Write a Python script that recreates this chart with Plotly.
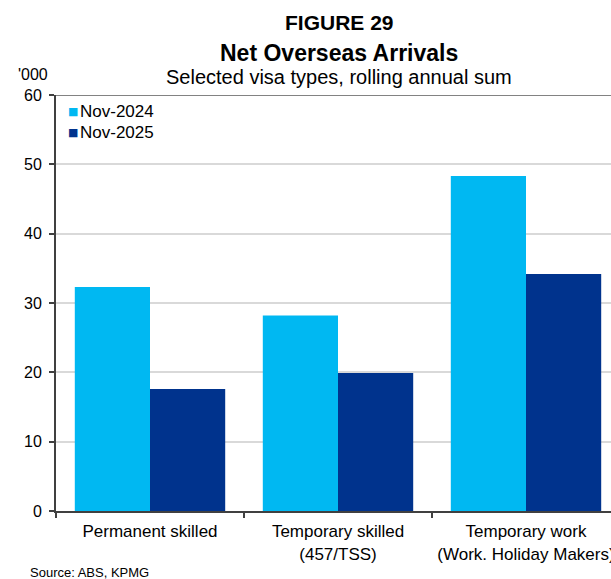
import plotly.graph_objects as go

# Visa categories (x axis) and the two rolling-annual snapshots, in '000
categories = ["Permanent skilled", "Temporary skilled<br>(457/TSS)", "Temporary work<br>(Work. Holiday Makers)"]
series_names = ["Nov-2024", "Nov-2025"]
nov_2024 = [32.3, 28.2, 48.3]
nov_2025 = [17.6, 19.9, 34.2]
y_ticks = [0, 10, 20, 30, 40, 50, 60]

LIGHT = "#00B8F2"
DARK = "#00338D"
FONT = "Liberation Sans, Arial, sans-serif"

W, H = 611, 579
L, R, T, B = 56, 0, 95, 68
plot_w = W - L - R
plot_h = H - T - B

fig = go.Figure()
fig.add_trace(go.Bar(x=categories, y=nov_2024, name=series_names[0], showlegend=False,
                     marker=dict(color=LIGHT, line=dict(width=0))))
fig.add_trace(go.Bar(x=categories, y=nov_2025, name=series_names[1], showlegend=False,
                     marker=dict(color=DARK, line=dict(width=0))))

def px_x(x):
    return (x - L) / plot_w

def px_y(y):
    return (H - B - y) / plot_h

# each category is ~188 px wide; the right-hand edge of the last one runs off the canvas
cat_px = 188
span = plot_w / cat_px

fig.update_layout(
    width=W, height=H,
    margin=dict(l=L, r=R, t=T, b=B, pad=0, autoexpand=False),
    paper_bgcolor="white", plot_bgcolor="white",
    font=dict(family=FONT, color="#000000", size=16),
    barmode="group", bargap=0.2, bargroupgap=0,
    showlegend=False,
    xaxis=dict(range=[-0.5, -0.5 + span], showgrid=False, automargin=False,
               showline=True, linecolor="#404040", linewidth=2,
               ticks="outside", tickson="boundaries", ticklen=5,
               tickcolor="#404040", tickwidth=1.5, ticklabelstandoff=4,
               tickfont=dict(size=17, family=FONT, color="#000000")),
    yaxis=dict(range=[0, 60], tickvals=y_ticks, showgrid=True, automargin=False,
               gridcolor="#D9D9D9", gridwidth=1.5,
               showline=True, linecolor="#404040", linewidth=2,
               ticks="outside", ticklen=5, tickcolor="#404040", tickwidth=1.5,
               ticklabelstandoff=4, zeroline=False,
               tickfont=dict(size=16, family=FONT, color="#000000")),
)

# dark rule along the top of the plot area
fig.add_shape(type="line", xref="paper", yref="y", x0=0, x1=1, y0=60, y1=60,
              line=dict(color="#595959", width=1.5))

# legend: small colour swatch followed by the series name
for i, (name, col) in enumerate(zip(series_names, [LIGHT, DARK])):
    yy = px_y(112 + 20 * i)
    fig.add_annotation(text="■", x=px_x(66), y=yy, xref="paper", yref="paper",
                       xanchor="left", yanchor="middle", showarrow=False,
                       font=dict(size=11, family="DejaVu Sans", color=col))
    fig.add_annotation(text=name, x=px_x(78), y=yy, xref="paper", yref="paper",
                       xanchor="left", yanchor="middle", showarrow=False,
                       font=dict(size=17, family=FONT, color="#000000"))

cx = px_x(339)
fig.add_annotation(text="<b>FIGURE 29</b>", x=cx, y=px_y(23), xref="paper", yref="paper",
                   xanchor="center", yanchor="middle", showarrow=False,
                   font=dict(size=21, family=FONT, color="#000000"))
fig.add_annotation(text="<b>Net Overseas Arrivals</b>", x=cx, y=px_y(52.5), xref="paper", yref="paper",
                   xanchor="center", yanchor="middle", showarrow=False,
                   font=dict(size=23, family=FONT, color="#000000"))
fig.add_annotation(text="Selected visa types, rolling annual sum", x=cx, y=px_y(77),
                   xref="paper", yref="paper", xanchor="center", yanchor="middle",
                   showarrow=False, font=dict(size=20, family=FONT, color="#000000"))
fig.add_annotation(text="'000", x=px_x(16), y=px_y(74), xref="paper", yref="paper",
                   xanchor="left", yanchor="middle", showarrow=False,
                   font=dict(size=16, family=FONT, color="#000000"))
fig.add_annotation(text="Source: ABS, KPMG", x=px_x(28), y=px_y(572), xref="paper", yref="paper",
                   xanchor="left", yanchor="middle", showarrow=False,
                   font=dict(size=13, family=FONT, color="#000000"))

fig.write_html("out.html")
